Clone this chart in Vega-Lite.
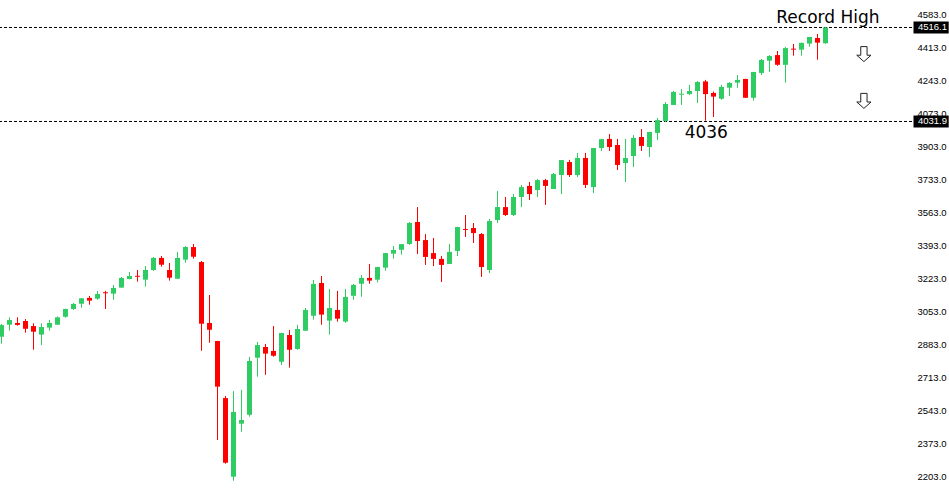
{
  "$schema": "https://vega.github.io/schema/vega-lite/v6.json",
  "width": 912,
  "height": 499,
  "padding": {"left": 0, "top": 0, "bottom": 0, "right": 37},
  "autosize": {"type": "none"},
  "background": "white",
  "view": {"stroke": null},
  "resolve": {"axis": {"y": "independent", "x": "independent"}},
  "config": {
    "axis": {"grid": false, "ticks": false, "domain": false, "labelFont": "Liberation Sans", "labelFontSize": 9.5, "labelColor": "#000000", "labelPadding": 5, "labelOverlap": false}
  },
  "datasets": {
    "candles": [
      {"i":0,"o":2923,"h":2989,"l":2887,"c":2983},
      {"i":1,"o":2985,"h":3023,"l":2954,"c":3009},
      {"i":2,"o":2994,"h":3023,"l":2980,"c":2984},
      {"i":3,"o":3004,"h":3014,"l":2944,"c":2964},
      {"i":4,"o":2978,"h":2992,"l":2856,"c":2949},
      {"i":5,"o":2934,"h":2992,"l":2880,"c":2973},
      {"i":6,"o":2970,"h":3009,"l":2954,"c":2994},
      {"i":7,"o":2985,"h":3028,"l":2984,"c":3023},
      {"i":8,"o":3026,"h":3067,"l":3021,"c":3066},
      {"i":9,"o":3066,"h":3097,"l":3061,"c":3092},
      {"i":10,"o":3093,"h":3122,"l":3073,"c":3121},
      {"i":11,"o":3123,"h":3133,"l":3088,"c":3109},
      {"i":12,"o":3119,"h":3159,"l":3114,"c":3143},
      {"i":13,"o":3152,"h":3159,"l":3066,"c":3147},
      {"i":14,"o":3145,"h":3190,"l":3114,"c":3174},
      {"i":15,"o":3176,"h":3231,"l":3175,"c":3226},
      {"i":16,"o":3220,"h":3257,"l":3219,"c":3236},
      {"i":17,"o":3237,"h":3267,"l":3207,"c":3232},
      {"i":18,"o":3217,"h":3287,"l":3181,"c":3267},
      {"i":19,"o":3267,"h":3334,"l":3262,"c":3329},
      {"i":20,"o":3329,"h":3339,"l":3284,"c":3294},
      {"i":21,"o":3267,"h":3303,"l":3212,"c":3227},
      {"i":22,"o":3222,"h":3360,"l":3220,"c":3329},
      {"i":23,"o":3320,"h":3390,"l":3304,"c":3385},
      {"i":24,"o":3385,"h":3401,"l":3325,"c":3335},
      {"i":25,"o":3308,"h":3313,"l":2851,"c":2990},
      {"i":26,"o":2994,"h":3138,"l":2892,"c":2959},
      {"i":27,"o":2901,"h":2902,"l":2391,"c":2666},
      {"i":28,"o":2607,"h":2618,"l":2269,"c":2274},
      {"i":29,"o":2202,"h":2643,"l":2181,"c":2535},
      {"i":30,"o":2475,"h":2649,"l":2434,"c":2494},
      {"i":31,"o":2521,"h":2819,"l":2511,"c":2798},
      {"i":32,"o":2815,"h":2896,"l":2717,"c":2880},
      {"i":33,"o":2870,"h":2886,"l":2727,"c":2836},
      {"i":34,"o":2850,"h":2978,"l":2820,"c":2825},
      {"i":35,"o":2794,"h":2943,"l":2777,"c":2942},
      {"i":36,"o":2932,"h":2958,"l":2764,"c":2856},
      {"i":37,"o":2860,"h":2984,"l":2856,"c":2963},
      {"i":38,"o":2954,"h":3071,"l":2953,"c":3061},
      {"i":39,"o":3031,"h":3215,"l":3011,"c":3195},
      {"i":40,"o":3200,"h":3236,"l":2985,"c":3037},
      {"i":41,"o":3006,"h":3169,"l":2934,"c":3071},
      {"i":42,"o":3061,"h":3159,"l":3001,"c":3016},
      {"i":43,"o":3001,"h":3169,"l":2995,"c":3128},
      {"i":44,"o":3134,"h":3195,"l":3114,"c":3190},
      {"i":45,"o":3196,"h":3241,"l":3129,"c":3226},
      {"i":46,"o":3226,"h":3298,"l":3196,"c":3212},
      {"i":47,"o":3217,"h":3283,"l":3203,"c":3282},
      {"i":48,"o":3279,"h":3355,"l":3263,"c":3354},
      {"i":49,"o":3351,"h":3390,"l":3325,"c":3370},
      {"i":50,"o":3371,"h":3401,"l":3346,"c":3400},
      {"i":51,"o":3401,"h":3514,"l":3396,"c":3509},
      {"i":52,"o":3514,"h":3591,"l":3349,"c":3416},
      {"i":53,"o":3421,"h":3452,"l":3293,"c":3334},
      {"i":54,"o":3354,"h":3432,"l":3287,"c":3324},
      {"i":55,"o":3324,"h":3339,"l":3205,"c":3293},
      {"i":56,"o":3298,"h":3401,"l":3297,"c":3360},
      {"i":57,"o":3365,"h":3489,"l":3339,"c":3488},
      {"i":58,"o":3478,"h":3550,"l":3437,"c":3473},
      {"i":59,"o":3483,"h":3509,"l":3406,"c":3457},
      {"i":60,"o":3452,"h":3457,"l":3231,"c":3282},
      {"i":61,"o":3267,"h":3530,"l":3251,"c":3519},
      {"i":62,"o":3524,"h":3674,"l":3509,"c":3591},
      {"i":63,"o":3591,"h":3643,"l":3545,"c":3550},
      {"i":64,"o":3550,"h":3658,"l":3545,"c":3643},
      {"i":65,"o":3643,"h":3705,"l":3591,"c":3694},
      {"i":66,"o":3700,"h":3720,"l":3627,"c":3658},
      {"i":67,"o":3679,"h":3736,"l":3643,"c":3730},
      {"i":68,"o":3730,"h":3736,"l":3602,"c":3700},
      {"i":69,"o":3684,"h":3767,"l":3683,"c":3761},
      {"i":70,"o":3756,"h":3834,"l":3658,"c":3833},
      {"i":71,"o":3823,"h":3834,"l":3746,"c":3756},
      {"i":72,"o":3756,"h":3870,"l":3746,"c":3844},
      {"i":73,"o":3844,"h":3870,"l":3689,"c":3705},
      {"i":74,"o":3694,"h":3896,"l":3663,"c":3895},
      {"i":75,"o":3895,"h":3942,"l":3880,"c":3941},
      {"i":76,"o":3942,"h":3967,"l":3880,"c":3900},
      {"i":77,"o":3911,"h":3942,"l":3782,"c":3808},
      {"i":78,"o":3818,"h":3942,"l":3720,"c":3844},
      {"i":79,"o":3854,"h":3962,"l":3797,"c":3947},
      {"i":80,"o":3952,"h":3993,"l":3880,"c":3906},
      {"i":81,"o":3900,"h":3978,"l":3849,"c":3978},
      {"i":82,"o":3973,"h":4050,"l":3936,"c":4039},
      {"i":83,"o":4034,"h":4132,"l":4029,"c":4122},
      {"i":84,"o":4117,"h":4189,"l":4116,"c":4184},
      {"i":85,"o":4170,"h":4199,"l":4117,"c":4175},
      {"i":86,"o":4173,"h":4220,"l":4168,"c":4189},
      {"i":87,"o":4189,"h":4240,"l":4127,"c":4235},
      {"i":88,"o":4238,"h":4246,"l":4036,"c":4173},
      {"i":89,"o":4179,"h":4186,"l":4055,"c":4160},
      {"i":90,"o":4149,"h":4220,"l":4144,"c":4210},
      {"i":91,"o":4206,"h":4235,"l":4163,"c":4230},
      {"i":92,"o":4232,"h":4271,"l":4206,"c":4246},
      {"i":93,"o":4251,"h":4252,"l":4153,"c":4154},
      {"i":94,"o":4154,"h":4287,"l":4139,"c":4287},
      {"i":95,"o":4282,"h":4354,"l":4271,"c":4349},
      {"i":96,"o":4345,"h":4374,"l":4287,"c":4369},
      {"i":97,"o":4374,"h":4395,"l":4319,"c":4324},
      {"i":98,"o":4324,"h":4416,"l":4232,"c":4410},
      {"i":99,"o":4407,"h":4431,"l":4371,"c":4402},
      {"i":100,"o":4402,"h":4438,"l":4371,"c":4437},
      {"i":101,"o":4433,"h":4468,"l":4417,"c":4467},
      {"i":102,"o":4462,"h":4483,"l":4350,"c":4438},
      {"i":103,"o":4435,"h":4518,"l":4432,"c":4516.1}
    ],
    "levels": [
      {"price": 4516.1, "label": "4516.1"},
      {"price": 4031.9, "label": "4031.9"}
    ],
    "notes": [
      {"text": "Record High", "i": 103.3, "price": 4541},
      {"text": "4036", "i": 88.1, "price": 3947}
    ],
    "arrows": [
      {"i": 107.8, "price": 4379},
      {"i": 107.8, "price": 4138}
    ]
  },
  "layer": [
    {
      "data": {"name": "levels"},
      "mark": {"type": "rule", "color": "#000000", "strokeWidth": 1, "strokeDash": [3, 2]},
      "encoding": {
        "y": {"field": "price", "type": "quantitative", "title": null, "scale": {"domain": [2087.1, 4657.7], "nice": false, "zero": false, "padding": 0},
              "axis": {"orient": "right", "labelOverlap": false, "labelBound": false, "labelSeparation": 0, "values": [2203, 2373, 2543, 2713, 2883, 3053, 3223, 3393, 3563, 3733, 3903, 4073, 4243, 4413, 4583], "format": ".1f"}}
      }
    },
    {
      "data": {"name": "candles"},
      "mark": {"type": "rule", "strokeWidth": 1},
      "encoding": {
        "x": {"field": "i", "type": "quantitative", "axis": null, "scale": {"domain": [-0.1875, 113.8125], "nice": false, "zero": false, "padding": 0}},
        "y": {"field": "l", "type": "quantitative", "title": null, "axis": null, "scale": {"domain": [2087.1, 4657.7], "nice": false, "zero": false, "padding": 0}},
        "y2": {"field": "h"},
        "color": {"condition": {"test": "datum.c >= datum.o", "value": "#2ecc62"}, "value": "#ff0000"}
      }
    },
    {
      "data": {"name": "candles"},
      "mark": {"type": "bar", "width": 5},
      "encoding": {
        "x": {"field": "i", "type": "quantitative", "axis": null, "scale": {"domain": [-0.1875, 113.8125], "nice": false, "zero": false, "padding": 0}},
        "y": {"field": "o", "type": "quantitative", "title": null, "axis": null, "scale": {"domain": [2087.1, 4657.7], "nice": false, "zero": false, "padding": 0}},
        "y2": {"field": "c"},
        "color": {"condition": {"test": "datum.c >= datum.o", "value": "#2ecc62"}, "value": "#ff0000"}
      }
    },
    {
      "data": {"name": "levels"},
      "mark": {"type": "bar", "height": 12, "color": "#000000"},
      "encoding": {
        "x": {"datum": 114.0, "type": "quantitative", "axis": null, "scale": {"domain": [-0.1875, 113.8125], "nice": false, "zero": false, "padding": 0}},
        "x2": {"datum": 118.4},
        "y": {"field": "price", "type": "quantitative", "title": null, "axis": null, "scale": {"domain": [2087.1, 4657.7], "nice": false, "zero": false, "padding": 0}}
      }
    },
    {
      "data": {"name": "levels"},
      "mark": {"type": "text", "color": "#ffffff", "font": "Liberation Sans", "fontSize": 9.5, "align": "left", "baseline": "middle"},
      "encoding": {
        "x": {"datum": 114.55, "type": "quantitative", "axis": null, "scale": {"domain": [-0.1875, 113.8125], "nice": false, "zero": false, "padding": 0}},
        "y": {"field": "price", "type": "quantitative", "title": null, "axis": null, "scale": {"domain": [2087.1, 4657.7], "nice": false, "zero": false, "padding": 0}},
        "text": {"field": "label"}
      }
    },
    {
      "data": {"name": "notes"},
      "mark": {"type": "text", "color": "#000000", "font": "DejaVu Sans", "fontSize": 17, "align": "center", "baseline": "alphabetic"},
      "encoding": {
        "x": {"field": "i", "type": "quantitative", "axis": null, "scale": {"domain": [-0.1875, 113.8125], "nice": false, "zero": false, "padding": 0}},
        "y": {"field": "price", "type": "quantitative", "title": null, "axis": null, "scale": {"domain": [2087.1, 4657.7], "nice": false, "zero": false, "padding": 0}},
        "text": {"field": "text"}
      }
    },
    {
      "data": {"name": "arrows"},
      "mark": {"type": "point", "shape": "M-0.42,-1L0.42,-1L0.42,0.15L0.95,0.15L0,1L-0.95,0.15L-0.42,0.15Z", "size": 225, "filled": true, "fill": "#ffffff", "stroke": "#222222", "strokeWidth": 1, "opacity": 1},
      "encoding": {
        "x": {"field": "i", "type": "quantitative", "axis": null, "scale": {"domain": [-0.1875, 113.8125], "nice": false, "zero": false, "padding": 0}},
        "y": {"field": "price", "type": "quantitative", "title": null, "axis": null, "scale": {"domain": [2087.1, 4657.7], "nice": false, "zero": false, "padding": 0}}
      }
    }
  ]
}
